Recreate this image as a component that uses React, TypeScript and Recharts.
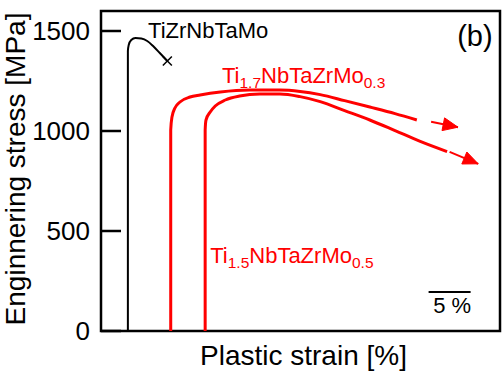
import React from 'react';
import { LineChart, Line, XAxis, YAxis, ReferenceArea, ReferenceDot } from 'recharts';

const FONT = '"Liberation Sans", Arial, Helvetica, sans-serif';
const RED = '#ff0000';

// axis
const xDomain: [number, number] = [0, 47.5];
const yDomain: [number, number] = [0, 1600];
const yTicks = [0, 500, 1000, 1500];

// TiZrNbTaMo (black)
const tiZrStrain = [3.2, 3.2, 3.3, 3.6, 4.1, 4.8, 5.5, 6.2, 7.0, 7.9];
const tiZrStress = [0, 1400, 1430, 1455, 1465, 1462, 1450, 1425, 1390, 1350];

// Ti1.7NbTaZrMo0.3 (red, upper)
const ti17Strain = [8.3, 8.3, 8.45, 8.8, 9.4, 10.6, 11.8, 14.2, 17.7, 21.3, 23.7, 26.1, 29.0, 32.0, 35.0, 37.6];
const ti17Stress = [0, 1005, 1070, 1115, 1145, 1170, 1180, 1195, 1205, 1205, 1198, 1182, 1152, 1120, 1087, 1055];

// Ti1.5NbTaZrMo0.5 (red, lower)
const ti15Strain = [12.4, 12.4, 12.5, 13.0, 13.6, 14.8, 16.5, 18.9, 21.3, 23.7, 26.1, 29.0, 32.0, 35.0, 38.0, 41.2];
const ti15Stress = [0, 1005, 1055, 1095, 1125, 1155, 1175, 1185, 1185, 1172, 1147, 1102, 1055, 1002, 948, 897];

// continuation arrows
const arrow17Strain = [39.3, 42.5];
const arrow17Stress = [1046, 1019];
const arrow15Strain = [41.5, 44.9];
const arrow15Stress = [896, 836];

// 5 % scale bar
const scaleStrain = [39.0, 44.0];
const scaleStress = [195, 195];
const scaleText = '5 %';

const toPoints = (s: number[], v: number[]) => s.map((x, i) => ({ s: x, v: v[i] }));

const tiZr = toPoints(tiZrStrain, tiZrStress);
const ti17 = toPoints(ti17Strain, ti17Stress);
const ti15 = toPoints(ti15Strain, ti15Stress);
const arrow17 = toPoints(arrow17Strain, arrow17Stress);
const arrow15 = toPoints(arrow15Strain, arrow15Stress);
const scaleBar = toPoints(scaleStrain, scaleStress);

const YTick = (props: any) => {
  const { x, y, payload } = props;
  return (
    <g>
      <line x1={x} x2={x + 20} y1={y} y2={y} stroke="#000" strokeWidth={2.5} />
      <text x={x - 11} y={y} dy="0.36em" textAnchor="end" fontSize={26} fontFamily={FONT} fill="#000">
        {payload.value}
      </text>
    </g>
  );
};

const renderYLabel = (props: any) => {
  const vb = props.viewBox || { x: 0, y: 11, width: 101, height: 320 };
  const cx = vb.x + 25;
  const cy = vb.y + vb.height / 2 - 2;
  return (
    <text x={cx} y={cy} transform={`rotate(-90, ${cx}, ${cy})`} textAnchor="middle" fontSize={28} fontFamily={FONT} fill="#000">
      Enginnering stress [MPa]
    </text>
  );
};

const renderXLabel = (props: any) => {
  const vb = props.viewBox || { x: 101, y: 331, width: 399, height: 42 };
  return (
    <text x={vb.x + vb.width / 2 + 3} y={vb.y + 34} textAnchor="middle" fontSize={28} fontFamily={FONT} fill="#000">
      Plastic strain [%]
    </text>
  );
};

const makeCross = (n: number) => (p: any) => {
  if (p.index !== n - 1) return <g key={`c-${p.index}`} />;
  const { cx, cy } = p;
  const d = 4.5;
  return (
    <g key={`c-${p.index}`}>
      <line x1={cx - d} y1={cy - d} x2={cx + d} y2={cy + d} stroke="#000" strokeWidth={1.5} />
      <line x1={cx - d} y1={cy + d} x2={cx + d} y2={cy - d} stroke="#000" strokeWidth={1.5} />
    </g>
  );
};

const makeArrowHead = (n: number) => (p: any) => {
  if (p.index !== n - 1) return <g key={`a-${p.index}`} />;
  const { cx, cy, points } = p;
  let ux = 1;
  let uy = 0;
  if (points && points.length > 1) {
    const a = points[points.length - 2];
    const b = points[points.length - 1];
    const dx = b.x - a.x;
    const dy = b.y - a.y;
    const len = Math.hypot(dx, dy) || 1;
    ux = dx / len;
    uy = dy / len;
  }
  const L = 15;
  const W = 6.5;
  const bx = cx - ux * L;
  const by = cy - uy * L;
  const nx = -uy;
  const ny = ux;
  const pts = `${cx},${cy} ${bx + nx * W},${by + ny * W} ${bx - nx * W},${by - ny * W}`;
  return <polygon key={`a-${p.index}`} points={pts} fill={RED} stroke={RED} strokeWidth={1} />;
};

const Sub = ({ children, size }: any) => null;

const RedLabel = (main1: string, sub1: string, main2: string, sub2: string) => (p: any) => (
  <text x={p.cx} y={p.cy} fontSize={22} fontFamily={FONT} fill={RED}>
    <tspan>{main1}</tspan>
    <tspan dy={5} fontSize={15.5}>{sub1}</tspan>
    <tspan dy={-5}>{main2}</tspan>
    <tspan dy={5} fontSize={15.5}>{sub2}</tspan>
  </text>
);

const PlainLabel = (txt: string, size: number, anchor: string = 'start') => (p: any) => (
  <text x={p.cx} y={p.cy} fontSize={size} fontFamily={FONT} fill="#000" textAnchor={anchor}>
    {txt}
  </text>
);

export default function App() {
  return (
    <div style={{ position: 'absolute', left: 0, top: 0, width: 504, height: 373, background: '#fff' }}>
      <LineChart width={504} height={373} margin={{ top: 11, right: 4, bottom: 0, left: 0 }}>
        <XAxis
          type="number"
          dataKey="s"
          domain={xDomain}
          allowDataOverflow
          height={42}
          tick={false}
          tickLine={false}
          axisLine={false}
          label={renderXLabel}
        />
        <YAxis
          type="number"
          dataKey="v"
          domain={yDomain}
          ticks={yTicks}
          interval={0}
          width={101}
          allowDataOverflow
          tickLine={false}
          axisLine={false}
          tickSize={0}
          tickMargin={0}
          tick={<YTick />}
          label={renderYLabel}
        />
        <ReferenceArea
          x1={xDomain[0]}
          x2={xDomain[1]}
          y1={yDomain[0]}
          y2={yDomain[1]}
          fill="none"
          fillOpacity={0}
          stroke="#000"
          strokeWidth={2.5}
          ifOverflow="visible"
        />
        <Line data={tiZr} dataKey="v" type="monotone" stroke="#000" strokeWidth={2} dot={makeCross(tiZr.length)} activeDot={false} isAnimationActive={false} />
        <Line data={ti17} dataKey="v" type="monotone" stroke={RED} strokeWidth={3} dot={false} activeDot={false} isAnimationActive={false} />
        <Line data={ti15} dataKey="v" type="monotone" stroke={RED} strokeWidth={3} dot={false} activeDot={false} isAnimationActive={false} />
        <Line data={arrow17} dataKey="v" type="linear" stroke={RED} strokeWidth={2} dot={makeArrowHead(arrow17.length)} activeDot={false} isAnimationActive={false} />
        <Line data={arrow15} dataKey="v" type="linear" stroke={RED} strokeWidth={2} dot={makeArrowHead(arrow15.length)} activeDot={false} isAnimationActive={false} />
        <Line data={scaleBar} dataKey="v" type="linear" stroke="#000" strokeWidth={2} dot={false} activeDot={false} isAnimationActive={false} />
        <ReferenceDot x={5.6} y={1465} r={0} ifOverflow="visible" shape={PlainLabel('TiZrNbTaMo', 22)} />
        <ReferenceDot x={42.4} y={1425} r={0} ifOverflow="visible" shape={PlainLabel('(b)', 29)} />
        <ReferenceDot x={41.8} y={90} r={0} ifOverflow="visible" shape={PlainLabel(scaleText, 22, 'middle')} />
        <ReferenceDot x={14.4} y={1240} r={0} ifOverflow="visible" shape={RedLabel('Ti', '1.7', 'NbTaZrMo', '0.3')} />
        <ReferenceDot x={13.0} y={340} r={0} ifOverflow="visible" shape={RedLabel('Ti', '1.5', 'NbTaZrMo', '0.5')} />
      </LineChart>
    </div>
  );
}
